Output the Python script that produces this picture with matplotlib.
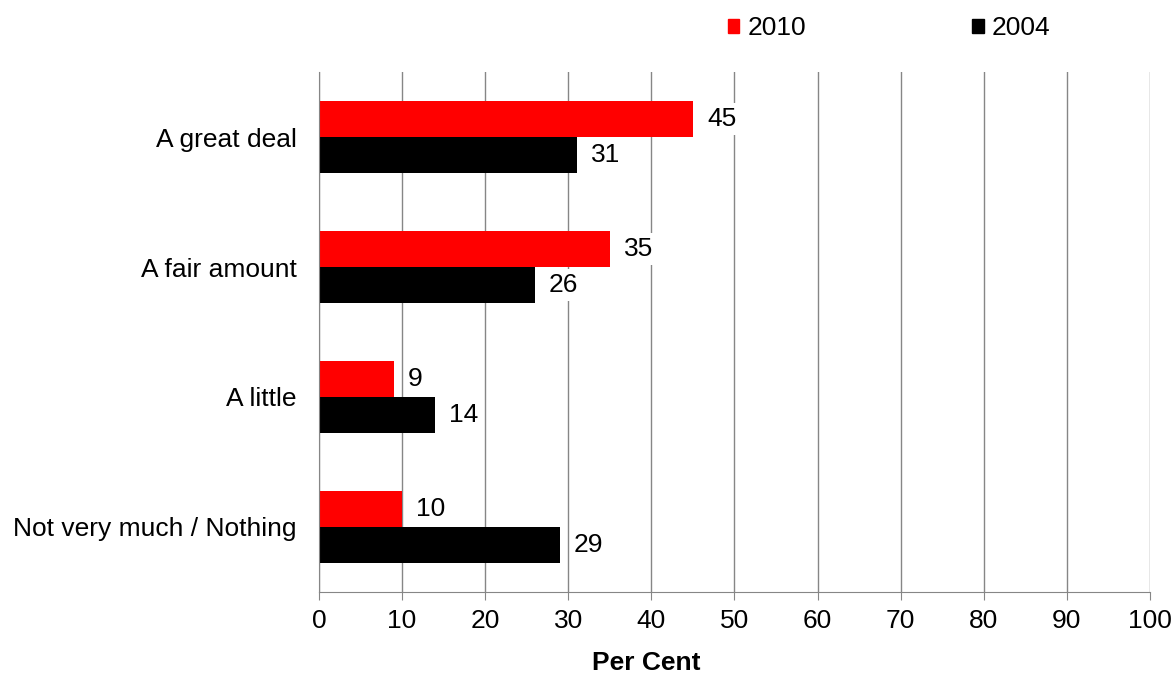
import matplotlib
matplotlib.use("Agg")
import matplotlib.pyplot as plt
from matplotlib.patches import Patch
import numpy as np

categories = ["A great deal", "A fair amount", "A little", "Not very much / Nothing"]
values_2010 = [45, 35, 9, 10]
values_2004 = [31, 26, 14, 29]
series_names = ["2010", "2004"]
colors = ["#ff0000", "#000000"]
xticks = [0, 10, 20, 30, 40, 50, 60, 70, 80, 90, 100]

plt.rcParams["font.family"] = ["Liberation Sans", "DejaVu Sans"]
fs = 19

fig = plt.figure(figsize=(11.71, 6.77), dpi=100)
ax = fig.add_axes([0.2724, 0.1256, 0.7096, 0.768])

y = np.arange(len(categories))
h = 0.28
bars_a = ax.barh(y - h / 2, values_2010, height=h, color=colors[0], zorder=2)
bars_b = ax.barh(y + h / 2, values_2004, height=h, color=colors[1], zorder=2)

for bars in (bars_a, bars_b):
    for b in bars:
        w = b.get_width()
        ax.annotate(str(int(w)), (w, b.get_y() + b.get_height() / 2),
                    xytext=(14, 0), textcoords="offset pixels",
                    ha="left", va="center", fontsize=fs, zorder=3,
                    bbox=dict(boxstyle="square,pad=0.15", fc="white", ec="none"))

ax.set_xlim(0, 100)
ax.set_ylim(len(categories) - 0.5, -0.5)
ax.set_xticks(xticks)
ax.set_yticks(y)
ax.set_yticklabels(categories)
ax.tick_params(axis="x", labelsize=fs, length=6, color="#868686", pad=6)
ax.tick_params(axis="y", labelsize=fs, length=0, pad=16)
ax.grid(axis="x", color="#868686", linewidth=1, zorder=0)
ax.set_axisbelow(True)
for s in ["top", "right"]:
    ax.spines[s].set_visible(False)
for s in ["left", "bottom"]:
    ax.spines[s].set_color("#868686")

fig.text(0.552, 0.003, "Per Cent", ha="center", va="bottom", fontsize=fs, fontweight="bold")

handles = [Patch(color=c, label=n) for c, n in zip(colors, series_names)]
fig.legend(handles=handles, loc="center left", bbox_to_anchor=(0.601, 0.958), ncol=2,
           frameon=False, fontsize=fs, handlelength=0.45, handleheight=0.45,
           handletextpad=0.3, columnspacing=6.3)

fig.savefig("out.png", dpi=100)
